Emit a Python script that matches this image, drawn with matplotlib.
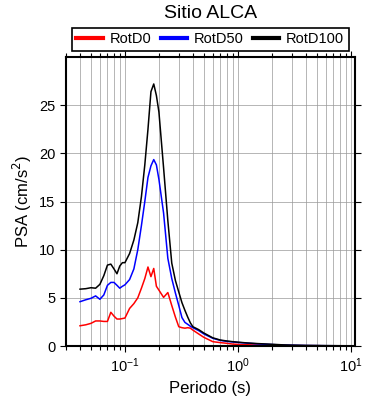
import matplotlib
matplotlib.use("Agg")
import matplotlib.pyplot as plt
from matplotlib.ticker import LogLocator, NullFormatter

plt.rcParams['font.family'] = ['Liberation Sans', 'DejaVu Sans']

# periods (s)
periodo = [0.04, 0.045, 0.05, 0.055, 0.06, 0.065, 0.07, 0.075, 0.08, 0.085,
           0.09, 0.095, 0.1, 0.11, 0.12, 0.13, 0.14, 0.15, 0.16, 0.17,
           0.18, 0.19, 0.2, 0.22, 0.24, 0.26, 0.28, 0.3, 0.32, 0.34,
           0.36, 0.38, 0.4, 0.45, 0.5, 0.6, 0.7, 0.8, 0.9, 1.0,
           1.2, 1.5, 2.0, 2.5, 3.0, 4.0, 5.0, 6.0, 7.5, 10.0]

rotd0 = [2.1, 2.2, 2.35, 2.6, 2.6, 2.55, 2.55, 3.5, 3.1, 2.8,
         2.8, 2.85, 2.9, 3.9, 4.4, 5.0, 6.0, 7.0, 8.2, 7.2,
         8.05, 6.2, 5.8, 5.05, 5.55, 4.2, 3.0, 2.0, 1.9, 1.85,
         1.9, 1.85, 1.65, 1.25, 0.9, 0.45, 0.35, 0.28, 0.2, 0.17,
         0.13, 0.1, 0.07, 0.05, 0.04, 0.03, 0.03, 0.02, 0.02, 0.01]

rotd50 = [4.6, 4.8, 4.95, 5.2, 4.85, 5.3, 6.3, 6.6, 6.6, 6.3,
          6.0, 6.2, 6.35, 6.9, 8.0, 10.0, 12.5, 15.0, 17.5, 18.7,
          19.35, 18.8, 17.3, 13.8, 9.1, 7.0, 5.5, 4.2, 2.95, 2.45,
          2.25, 2.05, 1.9, 1.6, 1.25, 0.8, 0.58, 0.48, 0.42, 0.37,
          0.3, 0.22, 0.15, 0.1, 0.08, 0.05, 0.04, 0.03, 0.025, 0.02]

rotd100 = [5.9, 5.95, 6.05, 6.0, 6.4, 7.3, 8.4, 8.5, 8.0, 7.5,
           8.3, 8.65, 8.65, 9.6, 11.0, 12.8, 15.5, 18.8, 22.5, 26.4,
           27.2, 26.0, 24.3, 18.5, 13.0, 8.6, 6.8, 5.6, 4.5, 3.7,
           3.0, 2.4, 2.0, 1.7, 1.35, 0.85, 0.62, 0.52, 0.45, 0.4,
           0.32, 0.25, 0.18, 0.12, 0.09, 0.06, 0.05, 0.04, 0.03, 0.02]

fig = plt.figure(figsize=(3.9, 4.0), dpi=100)
ax = fig.add_axes([0.169, 0.135, 0.741, 0.7225])

ax.plot(periodo, rotd0, color='red', lw=1.1, label='RotD0')
ax.plot(periodo, rotd50, color='blue', lw=1.1, label='RotD50')
ax.plot(periodo, rotd100, color='black', lw=1.1, label='RotD100')

ax.set_xscale('log')
ax.set_xlim(0.03, 10.9)
ax.set_ylim(0, 30)
ax.set_yticks([0, 5, 10, 15, 20, 25])
ax.xaxis.set_major_locator(LogLocator(base=10, numticks=10))
ax.xaxis.set_minor_locator(LogLocator(base=10, subs=range(2, 10), numticks=20))
ax.xaxis.set_minor_formatter(NullFormatter())

ax.grid(True, which='both', axis='x', color='#999999', lw=0.5)
ax.grid(True, which='major', axis='y', color='#999999', lw=0.5)
ax.set_axisbelow(True)

ax.tick_params(which='both', direction='out', top=True, right=True,
               labelsize=10.5, width=0.8)
ax.tick_params(which='major', length=4)
ax.tick_params(which='minor', length=3)
for s in ax.spines.values():
    s.set_linewidth(1.5)

ax.set_xlabel('Periodo (s)', fontsize=12)
ax.set_ylabel('PSA (cm/s$^2$)', fontsize=12)

leg = ax.legend(loc='upper center', bbox_to_anchor=(0.5, 1.10),
                ncol=3, fancybox=False, edgecolor='black',
                fontsize=10.5, handlelength=1.8, handletextpad=0.5,
                columnspacing=0.6, borderaxespad=0, borderpad=0.3,
                framealpha=1)
leg.get_frame().set_linewidth(1.2)
for line in leg.get_lines():
    line.set_linewidth(3)

ax.text(0.5, 1.149, 'Sitio ALCA', transform=ax.transAxes,
        ha='center', va='center', fontsize=14)

fig.savefig('out.png', dpi=100)
